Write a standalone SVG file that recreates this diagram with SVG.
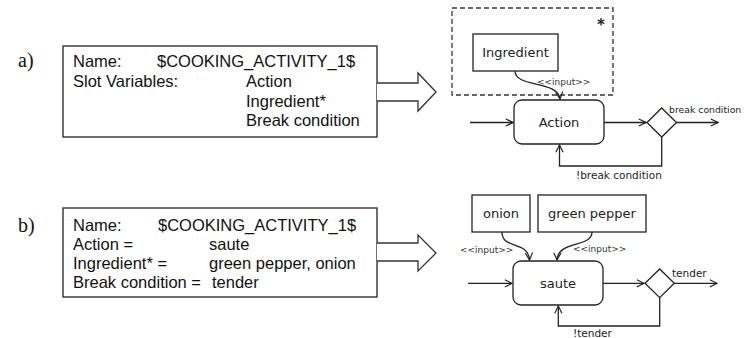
<svg xmlns="http://www.w3.org/2000/svg" width="748" height="338" viewBox="0 0 748 338">
<style>
.bg{fill:#fff}
.slot{fill:#fff;stroke:#333;stroke-width:1.4}
.st{font-family:"Liberation Sans",Arial,sans-serif;font-size:16.5px;fill:#111}
.lbl{font-family:"Liberation Serif","Times New Roman",serif;font-size:20px;fill:#111}
.big{fill:#fff;stroke:#333;stroke-width:1.3}
.node{fill:#fff;stroke:#222;stroke-width:1.3}
.nt{font-family:"DejaVu Sans",Verdana,sans-serif;font-size:13px;fill:#222;text-anchor:middle}
.et{font-family:"DejaVu Sans",Verdana,sans-serif;font-size:10.5px;fill:#222}
.it{font-family:"DejaVu Sans",Verdana,sans-serif;font-size:9px;fill:#333}
.ln{fill:none;stroke:#222;stroke-width:1.3}
.dash{fill:none;stroke:#333;stroke-width:1.3;stroke-dasharray:5 3}
</style>
<defs>
<marker id="arr" viewBox="0 0 10 10" refX="9" refY="5" markerWidth="9" markerHeight="9" markerUnits="userSpaceOnUse" orient="auto">
<path d="M1,1 L9,5 L1,9" fill="none" stroke="#222" stroke-width="1.3"/>
</marker>
</defs>
<rect class="bg" width="748" height="338"/>

<g id="label-a"><text class="lbl" x="18" y="67">a)</text></g>
<g id="slot-a">
<rect class="slot" x="63" y="46" width="314" height="91"/>
<text class="st" x="73" y="67">Name:</text>
<text class="st" x="157" y="67">$COOKING_ACTIVITY_1$</text>
<text class="st" x="73" y="87">Slot Variables:</text>
<text class="st" x="246" y="87">Action</text>
<text class="st" x="246" y="107">Ingredient*</text>
<text class="st" x="246" y="126">Break condition</text>
</g>
<g id="bigarrow-a"><path class="big" d="M377,83 L418,83 L418,73 L436,92 L418,111 L418,101 L377,101"/></g>

<g id="label-b"><text class="lbl" x="18" y="232">b)</text></g>
<g id="slot-b">
<rect class="slot" x="63" y="208" width="314" height="89"/>
<text class="st" x="73" y="231">Name:</text>
<text class="st" x="158" y="231">$COOKING_ACTIVITY_1$</text>
<text class="st" x="73" y="250">Action =</text>
<text class="st" x="209" y="250">saute</text>
<text class="st" x="73" y="269">Ingredient* =</text>
<text class="st" x="209" y="269">green pepper, onion</text>
<text class="st" x="73" y="288">Break condition =</text>
<text class="st" x="212" y="288">tender</text>
</g>
<g id="bigarrow-b"><path class="big" d="M377,243 L418,243 L418,235 L436,253 L418,271 L418,261 L377,261"/></g>

<!-- diagram a -->
<g id="multi-a"><rect class="dash" x="452" y="8" width="161" height="87"/><text class="nt" x="601" y="30" style="font-size:15px;font-weight:bold">*</text></g>
<g id="ingredient"><rect class="node" x="473" y="34" width="85" height="37"/><text class="nt" x="515.5" y="57">Ingredient</text></g>
<g id="action"><rect class="node" x="514" y="100" width="90" height="44" rx="8"/><text class="nt" x="559" y="127">Action</text></g>
<g id="decision-a"><path class="node" d="M647,122.5 L661.7,108 L676.5,122.5 L661.7,137 Z"/></g>

<!-- diagram b -->
<g id="onion"><rect class="node" x="472" y="195" width="58" height="37"/><text class="nt" x="501" y="218">onion</text></g>
<g id="greenpepper"><rect class="node" x="538" y="195" width="108" height="37"/><text class="nt" x="592" y="218">green pepper</text></g>
<g id="saute"><rect class="node" x="513" y="261" width="90" height="44" rx="8"/><text class="nt" x="558" y="288">saute</text></g>
<g id="decision-b"><path class="node" d="M645,283.3 L659.7,269 L674.3,283.3 L659.7,297.7 Z"/></g>

<g id="connectors">
<path class="ln" d="M515,71 C515,88 558,80 560,99" marker-end="url(#arr)"/>
<text class="it" x="537" y="85">&lt;&lt;input&gt;&gt;</text>
<path class="ln" d="M470,122.5 L513,122.5" marker-end="url(#arr)"/>
<path class="ln" d="M604,122.5 L646,122.5" marker-end="url(#arr)"/>
<path class="ln" d="M676.5,122.5 L718,122.5" marker-end="url(#arr)"/>
<text class="et" x="669" y="113" style="font-size:9.3px">break condition</text>
<path class="ln" d="M661.7,137 L661.7,166 L559.5,166 L559.5,145" marker-end="url(#arr)"/>
<text class="et" x="576" y="179">!break condition</text>

<path class="ln" d="M502,232 C502,250 528,240 529.5,260" marker-end="url(#arr)"/>
<text class="it" x="460" y="253">&lt;&lt;input&gt;&gt;</text>
<path class="ln" d="M592,232 C592,248 558,240 557,260" marker-end="url(#arr)"/>
<text class="it" x="573" y="252">&lt;&lt;input&gt;&gt;</text>
<path class="ln" d="M468,283.3 L512,283.3" marker-end="url(#arr)"/>
<path class="ln" d="M603,283.3 L644,283.3" marker-end="url(#arr)"/>
<path class="ln" d="M674.3,283.3 L717,283.3" marker-end="url(#arr)"/>
<text class="et" x="672" y="277">tender</text>
<path class="ln" d="M659.7,297.7 L659.7,326 L558.3,326 L558.3,306" marker-end="url(#arr)"/>
<text class="et" x="573" y="337">!tender</text>
</g>
</svg>
